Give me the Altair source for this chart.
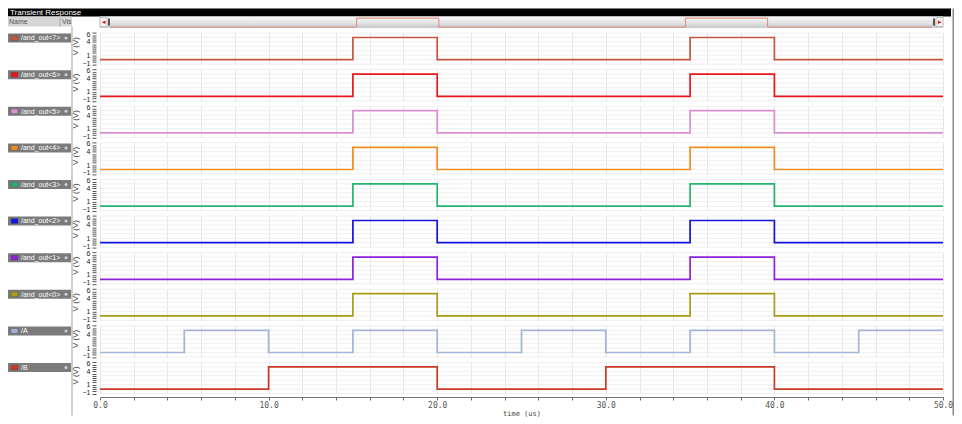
import altair as alt
import pandas as pd

# ---------------- data ----------------
names = ["/and_out<7>", "/and_out<6>", "/and_out<5>", "/and_out<4>", "/and_out<3>",
         "/and_out<2>", "/and_out<1>", "/and_out<0>", "/A", "/B"]
colors = ["#c4553e", "#e8161c", "#d890d0", "#f08c22", "#25b46e",
          "#1414e0", "#8c22dc", "#a89c16", "#a4b4d8", "#c83a22"]

and_times = [0, 15, 20, 35, 40, 50]
and_volts = [0, 5, 0, 5, 0, 0]
a_times = [0, 5, 10, 15, 20, 25, 30, 35, 40, 45, 50]
a_volts = [0, 5, 0, 5, 0, 5, 0, 5, 0, 5, 5]
b_times = [0, 10, 20, 30, 40, 50]
b_volts = [0, 5, 0, 5, 0, 0]

x_ticks = list(range(0, 51, 2))
y_ticks = [v * 0.5 for v in range(-2, 13)]
y_grid = [-1, 0, 1, 2, 3, 4, 5, 6]

W, H = 843, 32
GRID = "#e6e6e6"
UI_FONT = "Liberation Sans"
MONO = "DejaVu Sans Mono"


def series(i):
    if names[i] == "/A":
        return a_times, a_volts
    if names[i] == "/B":
        return b_times, b_volts
    return and_times, and_volts


def strip(i, last):
    t, v = series(i)
    df = pd.DataFrame({"t": t, "v": v})
    if last:
        xaxis = alt.Axis(values=x_ticks, grid=True, gridColor=GRID, tickSize=3,
                         tickColor="#666", domainColor="#777", offset=3,
                         labelExpr="datum.value % 10 == 0 ? format(datum.value, '.1f') : ''",
                         labelFont=MONO, labelFontSize=8, labelColor="#555",
                         labelFlush=False, labelOverlap=False, labelPadding=1,
                         title="time (us)", titleFont=MONO, titleFontSize=7,
                         titleFontWeight="normal", titleColor="#444", titlePadding=0)
    else:
        xaxis = alt.Axis(values=x_ticks, grid=True, gridColor=GRID, ticks=False,
                         labels=False, domain=False, title=None)
    yaxis = alt.Axis(values=y_ticks, grid=False, tickSize=4, tickColor="#555",
                     offset=4, domain=False,
                     labelExpr="datum.value == 6 || datum.value == 4 || datum.value == 1 || datum.value == -1 ? format(datum.value, 'd') : ''",
                     labelFont=UI_FONT, labelFontSize=7, labelColor="#222",
                     labelOffset={"condition": [{"test": "datum.value == 6", "value": 1},
                                                {"test": "datum.value == -1", "value": -1}],
                                  "value": 0},
                     labelOverlap=False, labelPadding=2, labelFlush=False,
                     title="V (V)", titleFont=UI_FONT, titleFontSize=8,
                     titleFontWeight="normal", titleColor="#333", titlePadding=3,
                     titleY=13)
    xs = alt.Scale(domain=[0, 50], nice=False, zero=False)
    ys = alt.Scale(domain=[-1.1, 6.1], nice=False, zero=False)

    grid = alt.Chart(pd.DataFrame({"g": y_grid})).mark_rule(
        color="#efefef", strokeWidth=1).encode(
        y=alt.Y("g:Q", scale=ys, axis=yaxis))
    line = alt.Chart(df).mark_line(
        interpolate="step-after", color=colors[i], strokeWidth=1.7).encode(
        x=alt.X("t:Q", scale=xs, axis=xaxis),
        y=alt.Y("v:Q", scale=ys, axis=yaxis))

    deco = alt.Chart(pd.DataFrame({"n": [names[i]]}))
    box = deco.mark_rect(color="#7b7b7b").encode(
        x=alt.value(-92), x2=alt.value(-29), y=alt.value(1), y2=alt.value(10))
    sw = deco.mark_rect(color=colors[i], stroke="#555", strokeWidth=0.5).encode(
        x=alt.value(-89), x2=alt.value(-82), y=alt.value(3), y2=alt.value(8))
    txt = deco.mark_text(align="left", baseline="middle", fontSize=7,
                         color="white", font=UI_FONT).encode(
        x=alt.value(-79), y=alt.value(5.8), text="n:N")
    eye = deco.mark_point(shape="circle", filled=True, size=9,
                          color="#c8d4ee", opacity=1).encode(
        x=alt.value(-34), y=alt.value(5.5))

    return alt.layer(grid, line, box, sw, txt, eye).properties(width=W, height=H)


# ---------------- header: title bar, name header, scrollbar ----------------
hx = alt.Scale(domain=[-0.608, 50.669], nice=False, zero=False)
hy = alt.Scale(domain=[-0.5, 6.17], nice=False, zero=False)
one = alt.Chart(pd.DataFrame({"n": ["Transient Response"]}))

titlebar = one.mark_rect(color="black").encode(
    x=alt.value(-92), x2=alt.value(851), y=alt.value(-7.4), y2=alt.value(0.6))
titletxt = one.mark_text(align="left", baseline="alphabetic", fontSize=8,
                         color="white", font=UI_FONT).encode(
    x=alt.value(-90), y=alt.value(-1.0), text="n:N")
namehdr = one.mark_rect(color="#d6d6d6").encode(
    x=alt.value(-92), x2=alt.value(-28), y=alt.value(0.6), y2=alt.value(10.6))
namesep = one.mark_rule(color="#aaaaaa").encode(
    x=alt.value(-40), y=alt.value(0.6), y2=alt.value(10.6))
nametxt = alt.Chart(pd.DataFrame({"n": ["Name"]})).mark_text(
    align="left", baseline="middle", fontSize=7, color="#555", font=UI_FONT).encode(
    x=alt.value(-91), y=alt.value(5.6), text="n:N")
vistxt = alt.Chart(pd.DataFrame({"n": ["Vis"]})).mark_text(
    align="left", baseline="middle", fontSize=7, color="#555", font=UI_FONT).encode(
    x=alt.value(-38), y=alt.value(5.6), text="n:N")
panelsep = one.mark_rect(color="#cfcfcf").encode(
    x=alt.value(-29), x2=alt.value(-27), y=alt.value(10.6), y2=alt.value(399.6))

track = one.mark_rect(
    color=alt.LinearGradient(gradient="linear",
                             stops=[alt.GradientStop(color="#fafafa", offset=0),
                                    alt.GradientStop(color="#e2e2e2", offset=0.6),
                                    alt.GradientStop(color="#c4c8cc", offset=1)],
                             x1=0, x2=0, y1=0, y2=1),
    stroke="#b8b8b8", strokeWidth=0.5).encode(
    x=alt.value(0), x2=alt.value(843), y=alt.value(0.6), y2=alt.value(11.6))
mini = alt.Chart(pd.DataFrame({"t": and_times, "v": and_volts})).mark_line(
    interpolate="step-after", color="#e08878", strokeWidth=1).encode(
    x=alt.X("t:Q", scale=hx, axis=None),
    y=alt.Y("v:Q", scale=hy, axis=None))
lbtn = one.mark_rect(color="#f2f2f2", stroke="#999", strokeWidth=0.5).encode(
    x=alt.value(0), x2=alt.value(7), y=alt.value(1.6), y2=alt.value(10.6))
rbtn = one.mark_rect(color="#f2f2f2", stroke="#999", strokeWidth=0.5).encode(
    x=alt.value(836), x2=alt.value(843), y=alt.value(1.6), y2=alt.value(10.6))
larr = alt.Chart(pd.DataFrame({"n": ["◂"]})).mark_text(
    fontSize=7, color="#dd1111", baseline="middle").encode(
    x=alt.value(3.5), y=alt.value(6), text="n:N")
rarr = alt.Chart(pd.DataFrame({"n": ["▸"]})).mark_text(
    fontSize=7, color="#dd1111", baseline="middle").encode(
    x=alt.value(839.5), y=alt.value(6), text="n:N")
lhandle = one.mark_rect(color="#555").encode(
    x=alt.value(8), x2=alt.value(10), y=alt.value(2.6), y2=alt.value(9.6))
rhandle = one.mark_rect(color="#555").encode(
    x=alt.value(833), x2=alt.value(835), y=alt.value(2.6), y2=alt.value(9.6))
rborder = one.mark_rect(color="#8a8a8a").encode(
    x=alt.value(852.5), x2=alt.value(854), y=alt.value(-7.4), y2=alt.value(399.6))

header = alt.layer(titlebar, titletxt, namehdr, namesep, nametxt, vistxt, panelsep,
                   track, mini, lbtn, rbtn, larr, rarr, lhandle, rhandle,
                   rborder).properties(width=W, height=12)

strips = [strip(i, i == len(names) - 1) for i in range(len(names))]

chart = alt.vconcat(header, *strips, spacing=4.6, bounds="flush").properties(
    padding=0, background="white"
).configure_view(stroke=None)

chart.save("out.html", embed_options={"renderer": "svg", "actions": False})
